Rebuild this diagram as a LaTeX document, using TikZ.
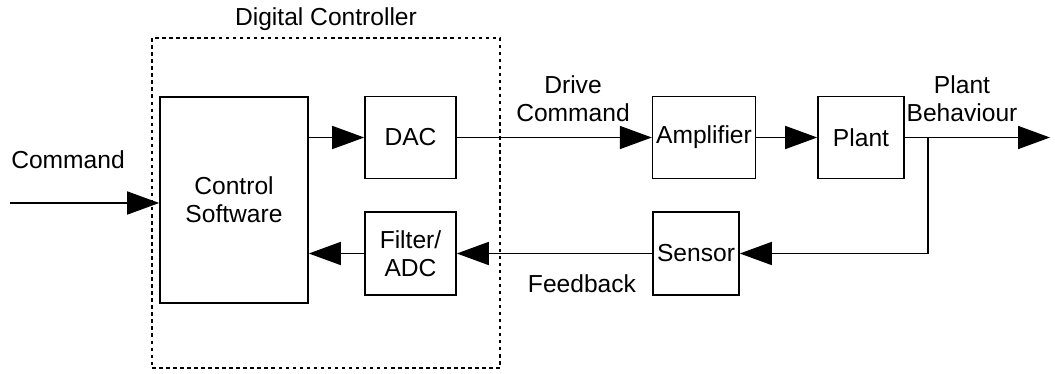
\documentclass[tikz,border=0pt]{standalone}
\usepackage{fontspec}
\setmainfont{Liberation Sans}
\usetikzlibrary{arrows.meta}
\usetikzlibrary{positioning}
\tikzset{
    block/.style={draw, line width=0.9pt, align=center, inner sep=2pt},
    sig/.style={line width=0.9pt},
    tag/.style={align=center, inner sep=0pt},
}

\begin{document}
\begin{tikzpicture}[>={Triangle[length=0.64cm,width=0.46cm]}, font=\fontsize{14}{16}\selectfont]
    \useasboundingbox (0,0) rectangle (21.1,-7.48);

    % Digital controller frame
    \node[draw, dash pattern=on 2pt off 2pt, line width=1.1pt, minimum width=6.96cm, minimum height=6.6cm] (ctrl) at (6.52,-4.06) {};
    \node[tag, above=0.12cm of ctrl] (ctrllabel) {Digital Controller};

    % Blocks
    \node[block, minimum width=2.96cm, minimum height=4.12cm] (soft) at (4.68,-4.0) {Control\\Software};
    \node[block, minimum width=1.82cm, minimum height=1.64cm] (dac) at (8.21,-2.75) {DAC};
    \node[block, minimum width=1.82cm, minimum height=1.66cm] (adc) at (8.21,-5.07) {Filter/\\ADC};
    \node[block, minimum width=2.04cm, minimum height=1.64cm] (amp) at (14.08,-2.75) {Amplifier};
    \node[block, minimum width=1.72cm, minimum height=1.64cm] (plant) at (17.22,-2.75) {Plant};
    \node[block, minimum width=1.72cm, minimum height=1.66cm] (sensor) at (13.92,-5.07) {Sensor};

    % Free ends
    \coordinate (cmd) at (0.2,-4.06);
    \coordinate (out) at (21.0,-2.75);
    \coordinate (branch) at (18.56,-2.75);

    % Labels
    \node[tag] (cmdlabel) at (1.36,-3.2) {Command};
    \node[tag] (drivelabel) at (11.46,-1.98) {Drive\\Command};
    \node[tag] (outlabel) at (19.24,-1.98) {Plant\\Behaviour};
    \node[tag] (fblabel) at (11.64,-5.68) {Feedback};

    % Connections
    \draw[sig, ->] (cmd) -- (cmd -| soft.west);
    \draw[sig, ->] (soft.east |- dac) -- (dac);
    \draw[sig, ->] (dac) -- (amp);
    \draw[sig, ->] (amp) -- (plant);
    \draw[sig, ->] (plant) -- (out);
    \draw[sig, ->] (branch) |- (sensor);
    \draw[sig, ->] (sensor) -- (adc);
    \draw[sig, ->] (adc) -- (adc -| soft.east);

\end{tikzpicture}
\end{document}
